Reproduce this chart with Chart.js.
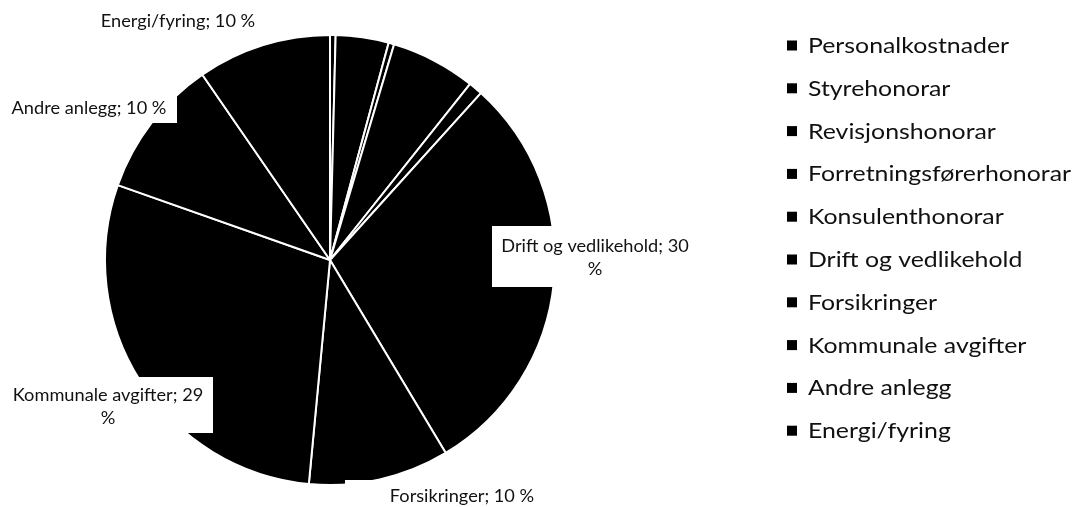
<!DOCTYPE html>
<html>
<head>
<meta charset="utf-8">
<script src="https://cdn.jsdelivr.net/npm/chart.js@4"></script>
<style>
  html, body { margin: 0; padding: 0; background: #fff; }
  #wrap { position: relative; width: 1077px; height: 507px; }
</style>
</head>
<body>
<div id="wrap"><canvas id="kostnader"></canvas></div>
<script>
// Kostnadsfordeling (andel av totale kostnader, %)
const kategorier = [
    'Personalkostnader',
    'Styrehonorar',
    'Revisjonshonorar',
    'Forretningsførerhonorar',
    'Konsulenthonorar',
    'Drift og vedlikehold',
    'Forsikringer',
    'Kommunale avgifter',
    'Andre anlegg',
    'Energi/fyring'
];
const andeler = [0.4, 3.8, 0.4, 6.1, 1.0, 29.7, 10.1, 28.9, 10.0, 9.6];
const farger = kategorier.map(() => '#000000');

// hvor dataetikettene står (bare de store sektorene har etikett)
const etikettPlass = {
    'Energi/fyring':        { x: 178, y: 27,  box: [95, 6, 166, 28] },
    'Andre anlegg':         { x: 89,  y: 114, box: [3, 93, 174, 30] },
    'Drift og vedlikehold': { x: 595, y: 252, lineGap: 23, split: true, box: [492, 226, 205, 61] },
    'Kommunale avgifter':   { x: 108, y: 401, lineGap: 23, split: true, box: [3, 377, 210, 56] },
    'Forsikringer':         { x: 462, y: 502, box: [345, 480, 233, 27] }
};

// Lato er smalere enn Calibri, så teksten strekkes litt på bredden
function strekkTekst(ctx, tekst, x, y, sx) {
    ctx.save();
    ctx.translate(x, y);
    ctx.scale(sx, 1);
    ctx.fillText(tekst, 0, 0);
    ctx.restore();
}

const etiketter = {
    id: 'etiketter',
    afterDatasetsDraw(chart) {
        const ctx = chart.ctx;
        const total = andeler.reduce((a, b) => a + b, 0);
        ctx.save();
        ctx.font = '17px Lato';
        ctx.textAlign = 'center';
        ctx.textBaseline = 'alphabetic';
        kategorier.forEach((navn, i) => {
            const p = etikettPlass[navn];
            if (!p) return;
            const pct = Math.round(andeler[i] / total * 100);
            const lines = p.split
                ? [navn + '; ' + pct, '%']
                : [navn + '; ' + pct + ' %'];
            ctx.fillStyle = '#fff';
            ctx.fillRect(p.box[0], p.box[1], p.box[2], p.box[3]);
            ctx.fillStyle = '#111';
            lines.forEach((t, k) => strekkTekst(ctx, t, p.x, p.y + k * (p.lineGap || 0), 1.07));
        });
        ctx.restore();
    }
};

// egen tegnforklaring til høyre
const tegnforklaring = {
    id: 'tegnforklaring',
    afterDraw(chart) {
        const ctx = chart.ctx;
        ctx.save();
        ctx.font = '21.5px Lato';
        ctx.textAlign = 'left';
        ctx.textBaseline = 'alphabetic';
        kategorier.forEach((navn, i) => {
            const cy = 45.5 + i * 42.8;
            ctx.fillStyle = farger[i];
            ctx.fillRect(787, cy - 5, 10, 10);
            ctx.fillStyle = '#111';
            strekkTekst(ctx, navn, 808, cy + 7.5, 1.155);
        });
        ctx.restore();
    }
};

new Chart(document.getElementById('kostnader'), {
    type: 'pie',
    data: {
        labels: kategorier,
        datasets: [{
            data: andeler,
            backgroundColor: farger,
            borderColor: '#ffffff',
            borderWidth: 2
        }]
    },
    options: {
        responsive: true,
        maintainAspectRatio: false,
        animation: false,
        layout: { padding: { left: 104, right: 521, top: 34, bottom: 21 } },
        plugins: {
            legend: { display: false },
            tooltip: { enabled: false }
        }
    },
    plugins: [etiketter, tegnforklaring]
});
</script>
</body>
</html>
